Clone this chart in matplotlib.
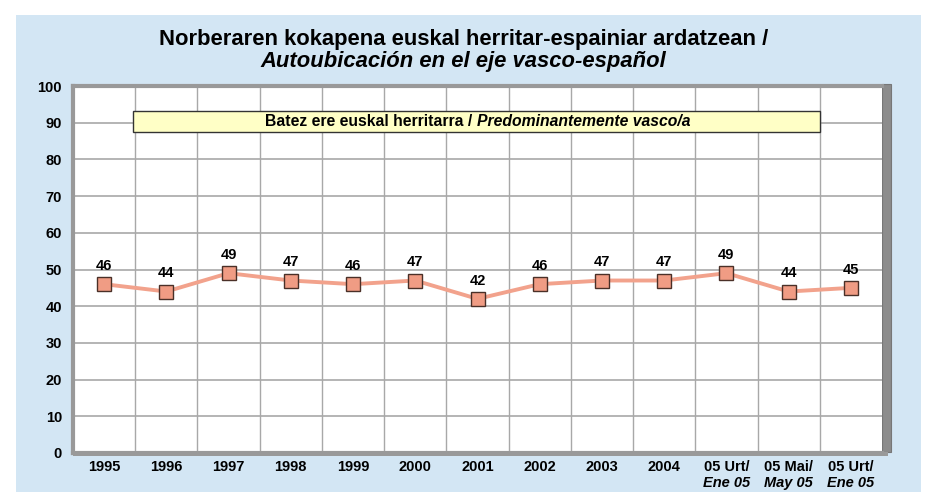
import matplotlib.pyplot as plt
from matplotlib.patches import Rectangle

plt.rcParams['font.family'] = ['Liberation Sans', 'DejaVu Sans']

# chart data
periods = ['1995', '1996', '1997', '1998', '1999', '2000', '2001', '2002',
           '2003', '2004', '05 Urt/', '05 Mai/', '05 Urt/']
periods_sub = ['', '', '', '', '', '', '', '', '', '', 'Ene 05', 'May 05', 'Ene 05']
values = [46, 44, 49, 47, 46, 47, 42, 46, 47, 47, 49, 44, 45]

bg = '#d3e6f4'
grid_col = '#a8a8a8'
wall_col = '#8c8c8c'
line_col = '#f2a28c'

fig = plt.figure(figsize=(9.27, 4.92), dpi=100)
fig.patch.set_facecolor('white')
W, H = 927, 492


def px(x0, y0, x1, y1):
    # pixel box (top-left origin) -> figure fraction rect
    return (x0 / W, 1 - y1 / H, (x1 - x0) / W, (y1 - y0) / H)


def fig_rect(box, **kw):
    r = px(*box)
    fig.patches.append(Rectangle(r[:2], r[2], r[3], transform=fig.transFigure, **kw))


# blue panel + 3d wall / floor
fig_rect((16, 15, 921, 492), facecolor=bg, edgecolor='none', zorder=-2)
fig_rect((882, 84, 891, 452), facecolor=wall_col, edgecolor='#777777', lw=0.8, zorder=-1)
fig_rect((73, 452, 888, 456), facecolor='#9a9a9a', edgecolor='none', zorder=-1)

ax = fig.add_axes(px(73, 86, 882, 453))
ax.set_zorder(2)
ax.set_facecolor('white')
x = list(range(len(values)))
ax.set_xlim(-0.5, len(values) - 0.5)
ax.set_ylim(0, 100)

ax.set_yticks(range(0, 101, 10))
ax.set_xticks([i + 0.5 for i in x[:-1]], minor=True)
ax.set_xticks([])
ax.grid(axis='y', color=grid_col, lw=1.2)
ax.grid(axis='x', which='minor', color=grid_col, lw=1.0)
ax.tick_params(axis='y', length=0, pad=8, labelsize=10.5)
ax.tick_params(axis='x', which='both', length=0)
for lab in ax.get_yticklabels():
    lab.set_fontweight('bold')

for s in ['left', 'bottom', 'top']:
    ax.spines[s].set_color('#999999')
    ax.spines[s].set_linewidth(3)
ax.spines['right'].set_visible(False)
ax.set_axisbelow(True)

ax.plot(x, values, color=line_col, lw=2.8, marker='s', markersize=9.5,
        markerfacecolor='#f09c84', markeredgecolor='#4a3028', markeredgewidth=1.0,
        zorder=3)
for xi, v in zip(x, values):
    ax.annotate(str(v), (xi, v), xytext=(0, 8), textcoords='offset points',
                ha='center', va='bottom', fontsize=10.5, fontweight='bold')

trans = ax.get_xaxis_transform()
for xi, p, s in zip(x, periods, periods_sub):
    ax.text(xi, -0.02, p, transform=trans, ha='center', va='top',
            fontsize=10.5, fontweight='bold')
    if s:
        ax.text(xi, -0.063, s, transform=trans, ha='center', va='top',
                fontsize=10.5, fontweight='bold', fontstyle='italic')

# yellow legend box
ax.add_patch(Rectangle((0.47, 87.4), 11.04, 5.8, facecolor='#ffffc6',
                       edgecolor='#333333', lw=1.0, zorder=4))
renderer = fig.canvas.get_renderer()
t1 = ax.text(0, 90.3, 'Batez ere euskal herritarra / ', ha='left', va='center',
             fontsize=11.3, fontweight='bold', zorder=5)
t2 = ax.text(0, 90.3, 'Predominantemente vasco/a', ha='left', va='center',
             fontsize=11.3, fontweight='bold', fontstyle='italic', zorder=5)
w1 = t1.get_window_extent(renderer).width
w2 = t2.get_window_extent(renderer).width
unit = ax.transData.transform((1, 0))[0] - ax.transData.transform((0, 0))[0]
start = 6.0 - (w1 + w2) / 2 / unit
t1.set_x(start)
t2.set_x(start + w1 / unit)

fig.text(0.5, 1 - 40 / H, 'Norberaren kokapena euskal herritar-espainiar ardatzean /',
         ha='center', va='center', fontsize=15.8, fontweight='bold')
fig.text(0.5, 1 - 62 / H, 'Autoubicación en el eje vasco-español',
         ha='center', va='center', fontsize=15.8, fontweight='bold', fontstyle='italic')

fig.savefig('out.png', dpi=100, facecolor=fig.get_facecolor())
